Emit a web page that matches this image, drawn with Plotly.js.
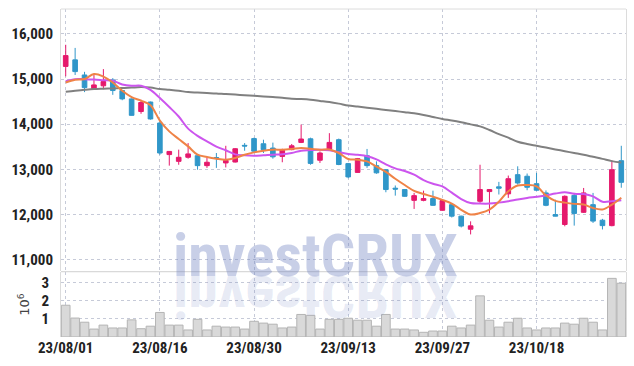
<!DOCTYPE html>
<html>
<head>
<meta charset="utf-8">
<script src="https://cdn.plot.ly/plotly-3.0.1.min.js"></script>
<style>html,body{margin:0;padding:0;background:#fff;}#chart{width:634px;height:366px;}</style>
</head>
<body>
<div id="chart"></div>
<script>
const dates = ["23/08/01","23/08/02","23/08/03","23/08/04","23/08/07","23/08/08","23/08/09","23/08/10","23/08/11","23/08/14",
"23/08/16","23/08/17","23/08/18","23/08/21","23/08/22","23/08/23","23/08/24","23/08/25","23/08/28","23/08/29",
"23/08/30","23/08/31","23/09/01","23/09/04","23/09/05","23/09/06","23/09/07","23/09/08","23/09/11","23/09/12",
"23/09/13","23/09/14","23/09/15","23/09/18","23/09/19","23/09/20","23/09/21","23/09/22","23/09/25","23/09/26",
"23/09/27","23/10/04","23/10/05","23/10/06","23/10/10","23/10/11","23/10/12","23/10/13","23/10/16","23/10/17",
"23/10/18","23/10/19","23/10/20","23/10/23","23/10/24","23/10/25","23/10/26","23/10/27","23/10/30","23/10/31"];

const openP = [15280,15425,15090,14785,14850,14980,14745,14560,14280,14490,
14025,13325,13175,13265,13300,13080,13260,13140,13160,13530,
13680,13565,13470,13285,13435,13595,13675,13200,13450,13655,
13125,12930,13300,13080,12990,12580,12550,12310,12310,12350,
12090,12215,11960,11670,12290,12505,12610,12455,12880,12845,
12680,12475,11995,11775,12420,12045,12215,11870,11750,13190];
const highP = [15760,15690,15160,15110,15220,15020,14760,14570,14540,14500,
14080,13400,13435,13580,13325,13250,13360,13520,13470,13580,
13700,13655,13590,13455,13560,13990,13700,13395,13800,13680,
13140,13250,13450,13175,13000,12640,12560,12475,12525,12525,
12320,12230,11970,11845,13100,12560,12720,12860,13065,12905,
12920,12530,12325,12420,12475,12585,12475,11900,13195,13520];
const lowP = [15060,15090,14710,14780,14775,14650,14530,14190,14230,14100,
13320,13080,13100,13235,12990,13030,13030,13040,13150,13410,
13380,13360,13235,13155,13420,13580,13100,13140,13435,13090,
12800,12920,13030,12900,12490,12415,12390,12120,12290,12190,
12080,11930,11710,11555,12255,12020,12440,12365,12660,12535,
12520,12180,11955,11735,11750,12030,11810,11665,11735,12590];
const closeP = [15520,15165,14810,14870,14945,14745,14560,14195,14480,14115,
13360,13395,13265,13340,13080,13155,13240,13195,13455,13515,
13400,13435,13275,13420,13520,13670,13130,13360,13595,13105,
12830,13235,13080,12920,12550,12560,12400,12415,12350,12200,
12305,11960,11740,11745,12550,12550,12580,12790,12695,12600,
12535,12200,11960,12400,12020,12475,11850,11750,12990,12710];

const ma5 = [14923,14982,15000,15110,15055,14923,14740,14600,14520,14420,
14080,13840,13670,13507,13323,13272,13235,13212,13250,13323,
13374,13412,13434,13434,13449,13471,13455,13434,13440,13360,
13228,13212,13175,13060,12940,12790,12650,12520,12450,12390,
12320,12240,12100,11996,12030,12106,12280,12511,12640,12650,
12620,12420,12300,12260,12232,12217,12140,12110,12217,12370];
const ma10 = [14954,14998,14998,14990,14975,14960,14880,14850,14850,14761,
14580,14380,14170,13900,13740,13620,13500,13420,13330,13308,
13301,13310,13323,13330,13360,13412,13425,13434,13420,13380,
13340,13320,13290,13220,13110,13020,12960,12880,12760,12680,
12620,12480,12340,12250,12239,12239,12260,12290,12330,12364,
12390,12420,12460,12490,12454,12450,12400,12280,12290,12312];
const maLong = [14717,14740,14760,14777,14785,14792,14799,14810,14821,14810,
14777,14760,14740,14710,14700,14690,14680,14666,14655,14640,
14628,14615,14600,14585,14565,14555,14540,14515,14490,14455,
14414,14390,14365,14340,14315,14290,14265,14240,14205,14160,
14115,14080,14040,13995,13950,13870,13780,13700,13610,13560,
13520,13480,13440,13400,13360,13320,13275,13230,13180,13150];

const volumeM = [1.76,1.05,0.82,0.44,0.66,0.5,0.5,0.95,0.46,0.6,
1.36,0.66,0.66,0.39,0.98,0.39,0.6,0.55,0.55,0.44,
0.87,0.77,0.71,0.5,0.55,1.25,1.2,0.44,0.98,0.98,
1.04,0.93,0.93,0.6,1.25,0.44,0.44,0.39,0.26,0.33,
0.33,0.6,0.5,0.66,2.28,0.93,0.55,0.82,1.04,0.5,
0.39,0.5,0.5,0.77,0.71,1.04,0.82,0.39,3.25,2.98];

const tickDates = ["23/08/01","23/08/16","23/08/30","23/09/13","23/09/27","23/10/18"];
const priceTicks = [11000,12000,13000,14000,15000,16000];
const priceTickText = ["11,000","12,000","13,000","14,000","15,000","16,000"];
const volTicks = [1,2,3];
const volTickText = ["1","2","3"];
const watermark = "investCRUX";

const UP = '#e5196c', DOWN = '#3097c9';
const tickFont = {family:"'Roboto Condensed','DejaVu Sans Condensed',sans-serif", size:15, color:'#222', weight:700};
const gridColor = '#c6cad8';
const bold = s => '<b>' + s + '</b>';

const traces = [
  {type:'bar', x:dates, y:volumeM, yaxis:'y2', xaxis:'x',
   marker:{color:'#d9d9d9', line:{color:'#b4b4b4', width:1}}, hoverinfo:'skip'},
  {type:'scatter', mode:'lines', x:dates, y:maLong, line:{color:'#808080', width:2, shape:'spline'}, hoverinfo:'skip'},
  {type:'scatter', mode:'lines', x:dates, y:ma10, line:{color:'#cc55ee', width:2, shape:'spline'}, hoverinfo:'skip'},
  {type:'scatter', mode:'lines', x:dates, y:ma5, line:{color:'#ef8347', width:2, shape:'spline'}, hoverinfo:'skip'},
  {type:'candlestick', x:dates, open:openP, high:highP, low:lowP, close:closeP,
   increasing:{line:{color:UP, width:1}, fillcolor:UP},
   decreasing:{line:{color:DOWN, width:1}, fillcolor:DOWN},
   whiskerwidth:0, hoverinfo:'skip'}
];

const wmFont = {family:"'Roboto Condensed','Liberation Sans',sans-serif", size:60, weight:700};

const layout = {
  width:634, height:366,
  margin:{l:61, r:8, t:9, b:29},
  paper_bgcolor:'#fff', plot_bgcolor:'#fff',
  showlegend:false,
  bargap:0.08,
  xaxis:{type:'category', range:[-0.5,59.5], anchor:'y2',
    tickvals:tickDates, ticktext:tickDates.map(bold), tickfont:tickFont,
    showgrid:true, gridcolor:gridColor, griddash:'dot', gridwidth:1,
    rangeslider:{visible:false}, ticks:'', showline:false, zeroline:false, fixedrange:true},
  yaxis:{domain:[0.2,1], range:[10735,16553], tickvals:priceTicks, ticktext:priceTickText.map(bold),
    tickfont:tickFont, showgrid:true, gridcolor:gridColor, griddash:'dot',
    showline:true, mirror:true, linecolor:'#dcdcdc', zeroline:false, ticks:'', ticklabelstandoff:4},
  yaxis2:{domain:[0,0.198], range:[0,3.6], tickvals:volTicks, ticktext:volTickText.map(bold),
    tickfont:tickFont, showgrid:true, gridcolor:gridColor, griddash:'dot',
    showline:true, mirror:true, linecolor:'#dcdcdc', zeroline:false, ticks:'', ticklabelstandoff:8,
    title:{text:'10<sup>6</sup>', font:{family:"'DejaVu Sans',sans-serif", size:13, color:'#444'}, standoff:8}},
  shapes:[
    {type:'line', xref:'paper', yref:'paper', x0:0, x1:1, y0:1, y1:1, line:{color:'#dcdcdc', width:1}},
    {type:'line', xref:'paper', yref:'paper', x0:0, x1:1, y0:0.199, y1:0.199, line:{color:'#cfcfcf', width:1}}
  ],
  annotations:[
    {xref:'paper', yref:'paper', x:0.45, y:0.135, yanchor:'bottom', xanchor:'center', showarrow:false,
     text:bold(watermark), font:Object.assign({color:'rgba(110,128,192,0.38)'}, wmFont)},
    {xref:'paper', yref:'paper', x:0.45, y:0.135, yanchor:'bottom', xanchor:'center', showarrow:false,
     text:bold(watermark), font:Object.assign({color:'rgba(110,128,192,0.16)'}, wmFont)}
  ]
};

Plotly.newPlot('chart', traces, layout, {displayModeBar:false, staticPlot:true}).then(function(gd){
  const anns = gd.querySelectorAll('.annotation');
  if (anns.length < 2) return;
  const targetW = 285;
  for (let k = 0; k < 2; k++) {
    const t = anns[k].querySelector('text');
    const bb = t.getBBox();
    const sx = targetW / bb.width;
    const cx = bb.x + bb.width / 2;
    const base = bb.y + bb.height * (0.928 / 1.172);
    const prev = t.getAttribute('transform') || '';
    let tr = 'translate(' + cx + ',0) scale(' + sx + ',1) translate(' + (-cx) + ',0)';
    if (k === 1) tr += ' translate(0,' + (2 * base) + ') scale(1,-1)';
    t.setAttribute('transform', tr + ' ' + prev);
  }
});
</script>
</body>
</html>
